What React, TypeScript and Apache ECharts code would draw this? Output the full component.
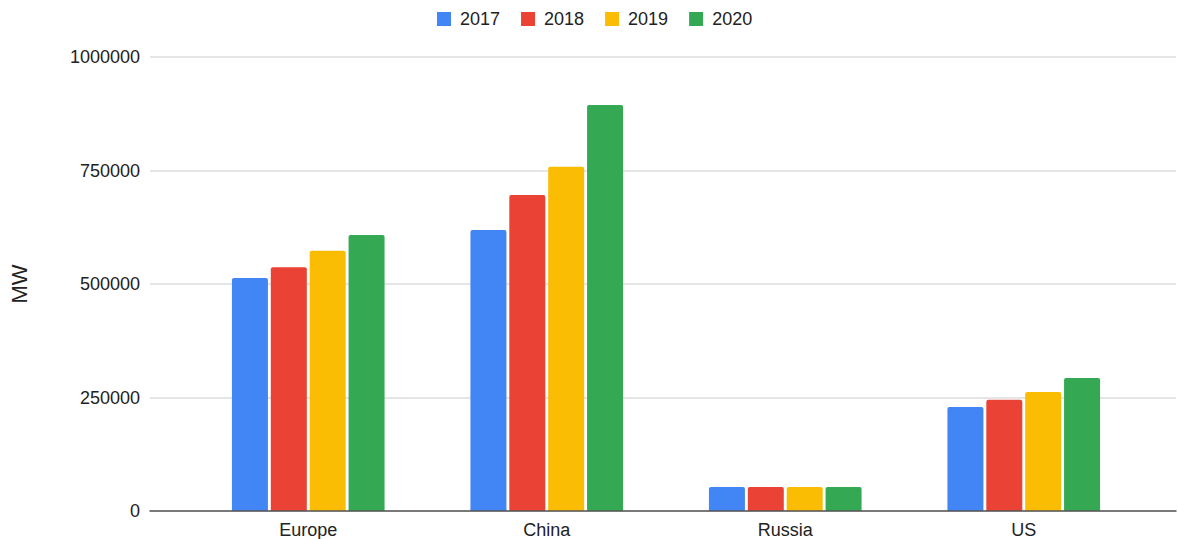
import React, { useEffect, useRef } from "react";
import * as echarts from "echarts";

const categories = ["Europe", "China", "Russia", "US"];
const seriesNames = ["2017", "2018", "2019", "2020"];
const values2017 = [513000, 619000, 53000, 229000];
const values2018 = [537000, 696000, 53000, 245000];
const values2019 = [573000, 758000, 53000, 262000];
const values2020 = [608000, 894000, 53000, 293000];
const colors = ["#4285F4", "#EA4335", "#FBBC04", "#34A853"];
const yTicks = [0, 250000, 500000, 750000, 1000000];

export default function App() {
  const ref = useRef<HTMLDivElement>(null);
  useEffect(() => {
    const chart = echarts.init(ref.current!, null, { renderer: "svg" });
    const allValues = [values2017, values2018, values2019, values2020];
    const font = "Arial, 'Liberation Sans', sans-serif";
    chart.setOption({
      animation: false,
      textStyle: { fontFamily: font },
      legend: {
        top: 10,
        left: 437,
        padding: 0,
        itemWidth: 14,
        itemHeight: 14,
        itemGap: 21,
        icon: "rect",
        textStyle: { fontSize: 18, color: "#222", padding: [0, 0, 0, 4] },
        data: seriesNames,
      },
      grid: [
        { left: 189, right: 35, top: 57, bottom: 28 },
        { left: 147, right: 2, top: 57, bottom: 28 },
      ],
      xAxis: [
        {
          type: "category",
          gridIndex: 0,
          data: categories,
          axisLine: { show: false },
          axisTick: { show: false },
          axisLabel: { fontSize: 18, color: "#222", margin: 10 },
        },
        {
          type: "value",
          gridIndex: 1,
          min: 0,
          max: 1,
          axisLabel: { show: false },
          axisTick: { show: false },
          splitLine: { show: false },
          axisLine: { show: true, lineStyle: { color: "#555", width: 1.5 } },
          z: 5,
        },
      ],
      yAxis: [
        {
          type: "value",
          gridIndex: 0,
          min: yTicks[0],
          max: yTicks[yTicks.length - 1],
          interval: 250000,
          axisLabel: { show: false },
          axisLine: { show: false },
          axisTick: { show: false },
          splitLine: { show: false },
        },
        {
          type: "value",
          gridIndex: 1,
          min: yTicks[0],
          max: yTicks[yTicks.length - 1],
          interval: 250000,
          name: "MW",
          nameLocation: "middle",
          nameGap: 120,
          nameTextStyle: { fontSize: 22, color: "#222" },
          axisLabel: { fontSize: 18, color: "#222", margin: 10, formatter: (v: number) => String(v) },
          axisLine: { show: false },
          axisTick: { show: false },
          splitLine: { show: true, lineStyle: { color: "#dcdcdc", width: 1.5 } },
        },
      ],
      series: seriesNames.map((name, i) => ({
        name,
        type: "bar",
        xAxisIndex: 0,
        yAxisIndex: 0,
        data: allValues[i],
        barWidth: 36,
        barGap: "8%",
        itemStyle: { color: colors[i], borderRadius: [2, 2, 0, 0] },
      })),
    });
    return () => chart.dispose();
  }, []);
  return (
    <div
      ref={ref}
      style={{ position: "fixed", left: 0, top: 0, width: 1178, height: 539, background: "#fff" }}
    />
  );
}
